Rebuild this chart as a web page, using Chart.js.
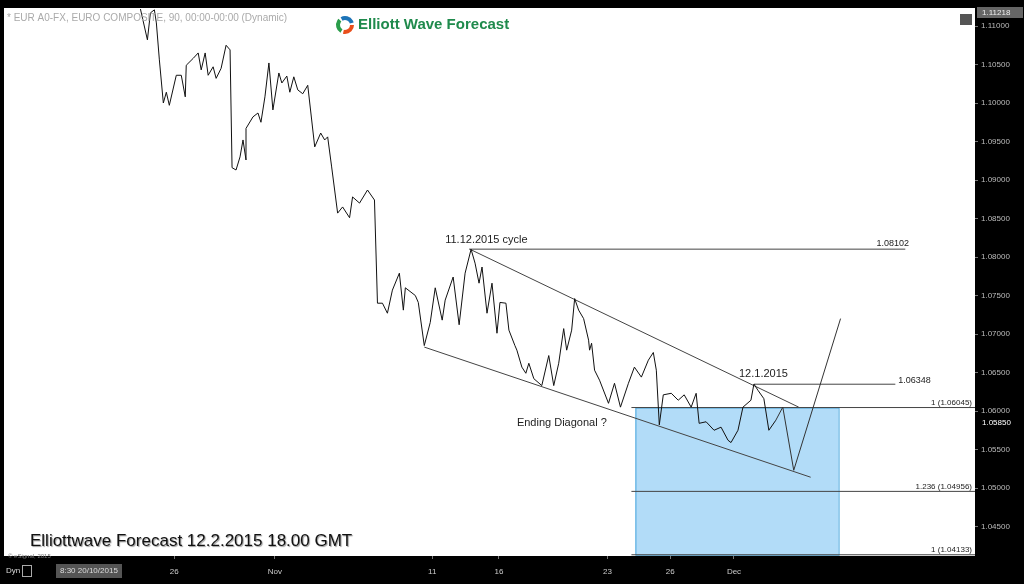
<!DOCTYPE html>
<html>
<head>
<meta charset="utf-8">
<script src="https://cdn.jsdelivr.net/npm/chart.js@4.4.0/dist/chart.umd.min.js"></script>
<style>
  html, body { margin: 0; padding: 0; background: #000; }
  #wrap { width: 1024px; height: 584px; }
</style>
</head>
<body>
<div id="wrap"><canvas id="c" width="1024" height="584"></canvas></div>
<script>
// bar positions (90 min bars) and closing prices
const bars = [137,144,147,151,153,156,160,163,166,173,178,182,183,190,195,198,202,205,210,213,218,223,227,229,233,237,240,243,243,250,255,258,262,266,270,276,279,284,287,291,295,300,305,312,318,322,325,329,335,340,347,350,357,365,372,375,380,385,390,397,401,403,413,416,422,428,433,440,443,451,457,463,469,473,477,480,485,490,495,498,504,507,513,515,520,524,527,532,540,547,552,557,562,565,570,573,577,582,587,588,590,593,598,607,613,619,627,633,640,647,652,655,658,662,670,677,683,690,695,698,705,713,720,727,730,737,742,750,753,757,763,768,775];
const prices = [1.1122,1.1082,1.1117,1.1121,1.1104,1.1056,1.1000,1.1014,1.0997,1.1036,1.1036,1.1008,1.1049,1.1058,1.1065,1.1043,1.1065,1.1036,1.1047,1.1032,1.1045,1.1075,1.1069,1.0916,1.0913,1.0930,1.0952,1.0926,1.0967,1.0982,1.0987,1.0975,1.1008,1.1052,1.0991,1.1039,1.1026,1.1035,1.1014,1.1034,1.1017,1.1012,1.1023,1.0943,1.0961,1.0952,1.0956,1.0917,1.0857,1.0865,1.0851,1.0878,1.0870,1.0887,1.0874,1.0740,1.0740,1.0727,1.0757,1.0779,1.0731,1.0760,1.0750,1.0741,1.0685,1.0715,1.0760,1.0718,1.0744,1.0774,1.0712,1.0779,1.0810,1.0792,1.0766,1.0787,1.0727,1.0766,1.0701,1.0741,1.0740,1.0705,1.0685,1.0679,1.0657,1.0649,1.0662,1.0642,1.0633,1.0672,1.0633,1.0662,1.0707,1.0679,1.0705,1.0746,1.0731,1.0720,1.0692,1.0679,1.0688,1.0653,1.0640,1.0610,1.0636,1.0605,1.0636,1.0657,1.0644,1.0666,1.0676,1.0653,1.0582,1.0621,1.0623,1.0614,1.0621,1.0605,1.0623,1.0584,1.0586,1.0575,1.0579,1.0562,1.0559,1.0575,1.0605,1.0614,1.0635,1.0627,1.0616,1.0575,1.0588];

// projected path
const projBars = [775,782,793,840];
const projPrices = [1.0588,1.0605,1.0523,1.0720];

// diagonal trend lines
const upperBars = [468,798];
const upperPrices = [1.0810,1.0605];
const lowerBars = [422,810];
const lowerPrices = [1.0683,1.0514];

// levels
const cycleHigh = 1.08102;
const dec1High = 1.06348;
const fibValues = [1.06045,1.04956,1.04133];
const fibLabels = ['1 (1.06045)','1.236 (1.04956)','1 (1.04133)'];
const boxBars = [634,838];

// x axis labels
const tickBars = [171,272,430,497,606,669,733];
const tickLabels = ['26','Nov','11','16','23','26','Dec'];

function pts(xs, ys) {
    return xs.map((x, i) => ({x: x, y: ys[i]}));
}

function seg(x1, x2, y, w, col) {
    return {data: [{x: x1, y: y}, {x: x2, y: y}], borderColor: col || '#444', borderWidth: w || 1, pointRadius: 0, tension: 0};
}

const datasets = [
    {data: pts(bars, prices), borderColor: '#111', borderWidth: 1, pointRadius: 0, tension: 0},
    {data: pts(projBars, projPrices), borderColor: '#333', borderWidth: 1, pointRadius: 0, tension: 0},
    {data: pts(upperBars, upperPrices), borderColor: '#444', borderWidth: 1, pointRadius: 0},
    {data: pts(lowerBars, lowerPrices), borderColor: '#444', borderWidth: 1, pointRadius: 0},
    seg(467, 905, cycleHigh),
    seg(753, 895, dec1High),
    seg(630, 975, fibValues[0]),
    seg(630, 975, fibValues[1]),
    seg(630, 975, fibValues[2])
];

//背景 + 注释
const drawPlugin = {
    id: 'draw',
    beforeDatasetsDraw(chart) {
        const ctx = chart.ctx, a = chart.chartArea;
        const x = chart.scales.x, y = chart.scales.y;
        ctx.save();
        ctx.fillStyle = '#fff';
        ctx.fillRect(a.left, a.top, a.right - a.left, a.bottom - a.top);
        // fib box
        const bx1 = x.getPixelForValue(boxBars[0]), bx2 = x.getPixelForValue(boxBars[1]);
        const by1 = y.getPixelForValue(fibValues[0]), by2 = y.getPixelForValue(fibValues[2]);
        ctx.fillStyle = '#b2dcf8';
        ctx.fillRect(bx1, by1, bx2 - bx1, by2 - by1);
        ctx.strokeStyle = '#4aa6dc';
        ctx.lineWidth = 1;
        ctx.strokeRect(bx1 + 0.5, by1 + 0.5, bx2 - bx1, by2 - by1);
        ctx.restore();
    },
    afterDraw(chart) {
        const ctx = chart.ctx, a = chart.chartArea;
        const x = chart.scales.x, y = chart.scales.y;
        ctx.save();
        ctx.fillStyle = '#222';
        ctx.font = '11px "Liberation Sans", Arial, sans-serif';
        ctx.textBaseline = 'middle';
        ctx.fillText('11.12.2015 cycle', x.getPixelForValue(443), y.getPixelForValue(cycleHigh) - 9);
        ctx.fillText('12.1.2015', x.getPixelForValue(738), y.getPixelForValue(dec1High) - 10);
        ctx.fillText('Ending Diagonal ?', x.getPixelForValue(515), 423);
        ctx.font = '9px "Liberation Sans", Arial, sans-serif';
        ctx.fillText('1.08102', x.getPixelForValue(876), y.getPixelForValue(cycleHigh) - 6);
        ctx.fillText('1.06348', x.getPixelForValue(898), y.getPixelForValue(dec1High) - 4);
        ctx.font = '8px "Liberation Sans", Arial, sans-serif';
        ctx.textAlign = 'right';
        fibValues.forEach((v, i) => ctx.fillText(fibLabels[i], a.right - 3, y.getPixelForValue(v) - 5));
        ctx.textAlign = 'left';
        // header
        ctx.fillStyle = '#aaa';
        ctx.font = '10px "Liberation Sans", Arial, sans-serif';
        ctx.fillText('* EUR A0-FX, EURO COMPOSITE, 90, 00:00-00:00 (Dynamic)', 7, 18);
        // logo
        const lx = 345, ly = 25;
        ['#e94e1b', '#2a9d4a', '#1d74b8'].forEach((c, i) => {
            ctx.beginPath();
            ctx.strokeStyle = c;
            ctx.lineWidth = 4;
            ctx.arc(lx, ly, 7, i * 2.1, i * 2.1 + 1.8);
            ctx.stroke();
        });
        ctx.fillStyle = '#1f8a4c';
        ctx.font = 'bold 15px "Liberation Sans", Arial, sans-serif';
        ctx.fillText('Elliott Wave Forecast', 358, 25);
        // footer
        ctx.fillStyle = '#111';
        ctx.shadowColor = 'rgba(0,0,0,0.4)';
        ctx.shadowOffsetX = 1; ctx.shadowOffsetY = 1; ctx.shadowBlur = 1;
        ctx.font = '17px "Liberation Sans", Arial, sans-serif';
        ctx.fillText('Elliottwave Forecast 12.2.2015 18.00 GMT', 30, 541);
        ctx.shadowColor = 'transparent';
        ctx.fillStyle = '#777';
        ctx.font = '6px "Liberation Sans", Arial, sans-serif';
        ctx.fillText('\u00a9 eSignal, 2015', 8, 556);
        // icon top right
        ctx.fillStyle = '#555';
        ctx.fillRect(960, 14, 12, 11);
        // price boxes
        ctx.fillStyle = '#666';
        ctx.fillRect(a.right + 2, 7, 46, 11);
        ctx.fillStyle = '#eee';
        ctx.font = '8px "Liberation Sans", Arial, sans-serif';
        ctx.fillText('1.11218', a.right + 7, 13);
        ctx.fillStyle = '#fff';
        ctx.fillText('1.05850', a.right + 7, y.getPixelForValue(1.0585));
        // bottom strip
        ctx.fillStyle = '#ddd';
        ctx.fillText('Dyn', 6, 571);
        ctx.strokeStyle = '#aaa';
        ctx.lineWidth = 1;
        ctx.strokeRect(22.5, 565.5, 9, 11);
        ctx.fillStyle = '#555';
        ctx.fillRect(56, 564, 66, 14);
        ctx.fillStyle = '#ddd';
        ctx.fillText('8:30 20/10/2015', 60, 571);
        ctx.restore();
    }
};

new Chart(document.getElementById('c'), {
    type: 'line',
    data: {datasets: datasets},
    plugins: [drawPlugin],
    options: {
        responsive: false,
        animation: false,
        parsing: false,
        layout: {padding: {left: 4, top: 8, right: 0, bottom: 0}},
        plugins: {legend: {display: false}, tooltip: {enabled: false}},
        scales: {
            x: {
                type: 'linear', min: 0, max: 975,
                afterFit: s => { s.height = 28; },
                afterBuildTicks: s => { s.ticks = tickBars.map(v => ({value: v})); },
                grid: {drawOnChartArea: false, color: '#777', tickLength: 3},
                border: {display: false},
                ticks: {
                    color: '#ccc', font: {size: 8}, maxRotation: 0, autoSkip: false, padding: 8,
                    callback: (v) => tickLabels[tickBars.indexOf(v)]
                }
            },
            y: {
                position: 'right',
                min: 1.11 - 530 / 7700, max: 1.11 + 18 / 7700,
                afterFit: s => { s.width = 49; },
                afterBuildTicks: s => {
                    const t = [];
                    for (let v = 1.045; v <= 1.1101; v += 0.005) t.push({value: v});
                    s.ticks = t;
                },
                grid: {drawOnChartArea: false, color: '#777', tickLength: 3},
                border: {display: false},
                ticks: {color: '#bbb', font: {size: 8}, padding: 3, callback: v => v.toFixed(5)}
            }
        }
    }
});
</script>
</body>
</html>
